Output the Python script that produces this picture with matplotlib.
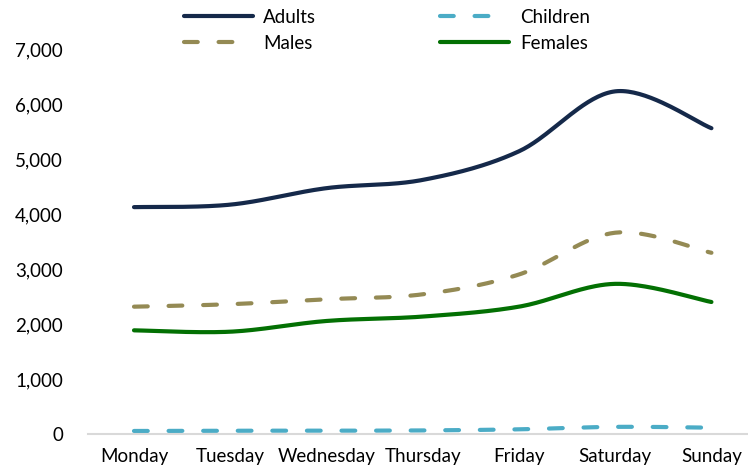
import numpy as np
import matplotlib
matplotlib.use("Agg")
import matplotlib.pyplot as plt

plt.rcParams['font.family'] = ['Lato', 'DejaVu Sans']

days = ["Monday", "Tuesday", "Wednesday", "Thursday", "Friday", "Saturday", "Sunday"]
adults = [4125, 4170, 4470, 4620, 5140, 6230, 5560]
children = [55, 60, 60, 65, 85, 130, 115]
males = [2315, 2360, 2450, 2540, 2900, 3660, 3295]
females = [1885, 1860, 2055, 2135, 2315, 2730, 2400]

# pixel scale used for excel-like smoothing
PX_X = 96.2
PX_Y = 386 / 7000


def smooth(vals, n=40):
    # excel style bezier smoothing done in screen space
    p = np.column_stack([np.arange(len(vals)) * PX_X, np.array(vals, float) * PX_Y])
    pts = []
    for i in range(len(p) - 1):
        p0 = p[max(i - 1, 0)]
        p1 = p[i]
        p2 = p[i + 1]
        p3 = p[min(i + 2, len(p) - 1)]
        c1 = p1 + (p2 - p0) / 6
        c2 = p2 - (p3 - p1) / 6
        t = np.linspace(0, 1, n)[:, None]
        seg = (1 - t) ** 3 * p1 + 3 * (1 - t) ** 2 * t * c1 + 3 * (1 - t) * t ** 2 * c2 + t ** 3 * p2
        pts.append(seg if i == 0 else seg[1:])
    pts = np.vstack(pts)
    return pts[:, 0] / PX_X, pts[:, 1] / PX_Y


fig = plt.figure(figsize=(7.48, 4.72), dpi=100)
ax = fig.add_axes([88 / 748, 38 / 472, 660 / 748, 385 / 472])

lw = 3.0
series = [
    ("Adults", adults, "#15294A", None),
    ("Males", males, "#948A54", (3.3, 5.0)),
    ("Children", children, "#4BACC6", (3.3, 5.0)),
    ("Females", females, "#037003", None),
]
for name, vals, col, dash in series:
    xs, ys = smooth(vals)
    line, = ax.plot(xs, ys, color=col, lw=lw, label=name, clip_on=False,
                    solid_capstyle='round', dash_capstyle='round')
    if dash:
        line.set_dashes(dash)

ax.set_xlim(-0.478, 6.38)
ax.set_ylim(0, 7000)
ax.set_xticks(range(len(days)))
ax.set_xticklabels(days)
ax.set_yticks(range(0, 7001, 1000))
ax.set_yticklabels([f"{v:,}" for v in range(0, 7001, 1000)])
ax.tick_params(axis='both', length=0, labelsize=13.5, colors='black')
ax.tick_params(axis='y', pad=18)
ax.tick_params(axis='x', pad=10)
for s in ['top', 'right', 'left']:
    ax.spines[s].set_visible(False)
ax.spines['bottom'].set_color('#D9D9D9')
ax.spines['bottom'].set_linewidth(1.5)

handles, labels = ax.get_legend_handles_labels()
fig.legend(handles, labels, ncol=2, loc='upper left', bbox_to_anchor=(178 / 748, 1.0 - 3 / 472),
           frameon=False, fontsize=13.5, handlelength=3.7, handletextpad=0.55,
           columnspacing=6.6, labelspacing=0.5, borderaxespad=0.2, borderpad=0.1)

fig.savefig("out.png", dpi=100)
